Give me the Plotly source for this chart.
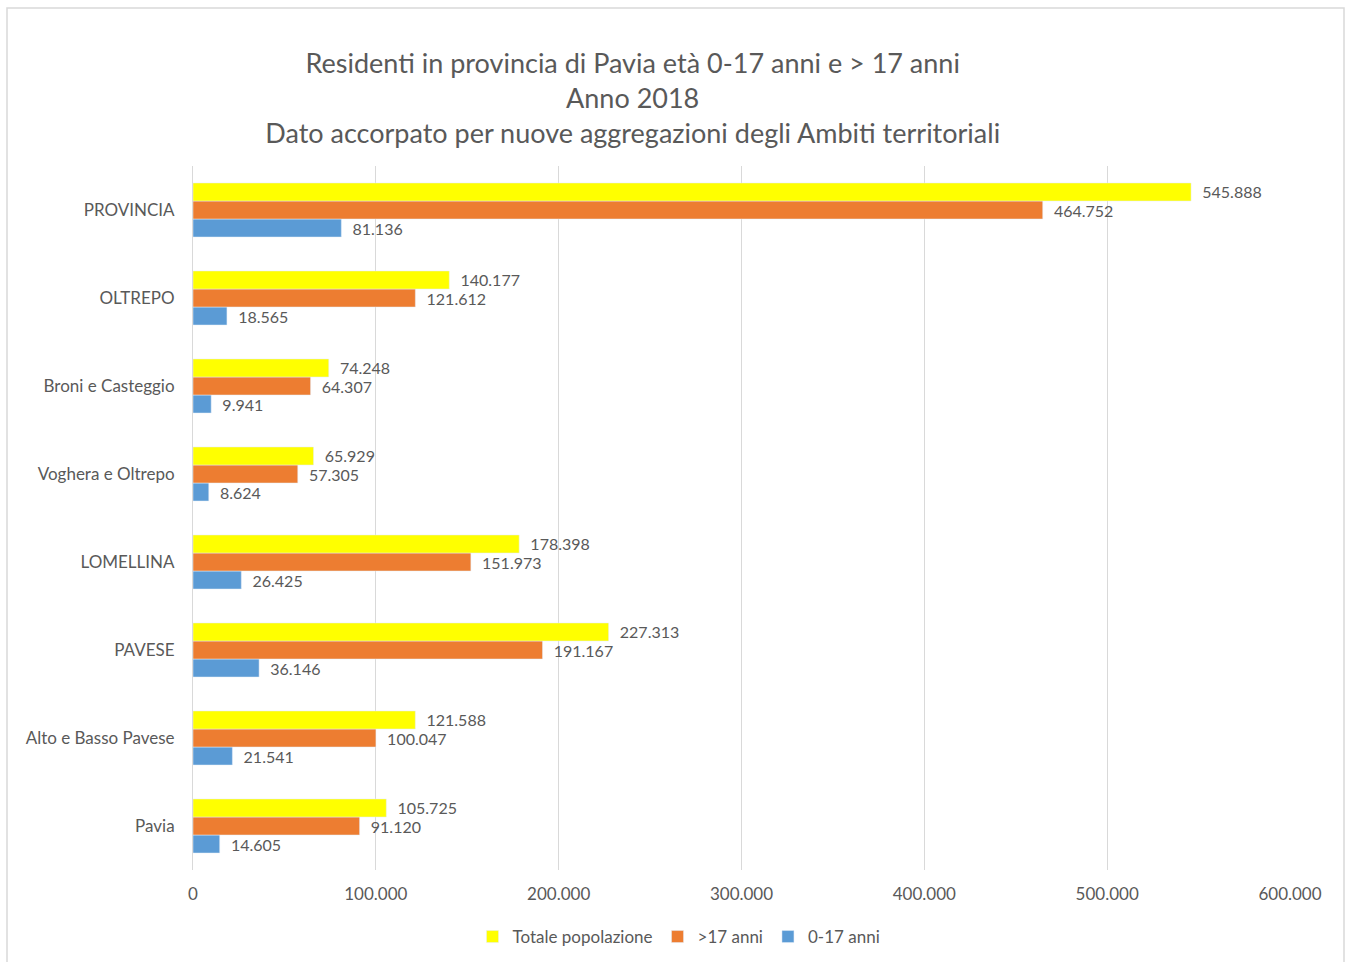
import plotly.graph_objects as go

categories = ["PROVINCIA", "OLTREPO", "Broni e Casteggio", "Voghera e Oltrepo",
              "LOMELLINA", "PAVESE", "Alto e Basso Pavese", "Pavia"]
totale = [545888, 140177, 74248, 65929, 178398, 227313, 121588, 105725]
over17 = [464752, 121612, 64307, 57305, 151973, 191167, 100047, 91120]
under17 = [81136, 18565, 9941, 8624, 26425, 36146, 21541, 14605]
x_ticks = [0, 100000, 200000, 300000, 400000, 500000, 600000]

# bottom-to-top order for plotly
cats = categories[::-1]

def rev(a):
    return a[::-1]

FONT = "Lato, 'Open Sans', sans-serif"
lbl_font = dict(family=FONT, size=16, color="#595959")

fig = go.Figure()
for vals, name, col in [(under17, "0-17 anni", "#5B9BD5"),
                        (over17, ">17 anni", "#ED7D31"),
                        (totale, "Totale popolazione", "#FFFF00")]:
    fig.add_trace(go.Bar(y=cats, x=rev(vals), orientation="h", name=name,
                         marker_color=col, texttemplate="  %{x:,}", textposition="outside",
                         textfont=lbl_font, cliponaxis=False, constraintext="none"))

fig.update_layout(
    width=1349, height=962,
    margin=dict(l=193, r=59, t=166, b=92, autoexpand=False),
    paper_bgcolor="white", plot_bgcolor="white",
    separators=",.",
    barmode="group", bargap=0.386, bargroupgap=0,
    font=dict(family=FONT, color="#595959", size=16),
    title=dict(
        text="Residenti in provincia di Pavia età 0-17 anni e > 17 anni<br>Anno 2018<br>Dato accorpato per nuove aggregazioni degli Ambiti territoriali",
        x=0.469, xanchor="center", y=0.924, yanchor="top",
        font=dict(family=FONT, size=27, color="#595959"),
    ),
    legend=dict(orientation="h", x=(679 - 193) / 1097, xanchor="center",
                y=(870 - 937) / 704, yanchor="middle",
                traceorder="reversed", font=dict(family=FONT, size=17, color="#595959"),
                itemwidth=30),
    showlegend=True,
)
fig.update_xaxes(range=[0, 600000], tickvals=x_ticks, tickformat=",", automargin=False,
                 showgrid=True, gridcolor="#D9D9D9", gridwidth=1,
                 zeroline=False, showline=False, ticks="", ticklabelstandoff=12,
                 tickfont=dict(family=FONT, size=17, color="#595959"))
fig.update_yaxes(showgrid=False, showline=True, linecolor="#D9D9D9", linewidth=1,
                 ticks="", ticklabelstandoff=14, automargin=False,
                 tickfont=dict(family=FONT, size=17, color="#595959"))

fig.add_shape(type="rect", xref="paper", yref="paper",
              x0=(7 - 193) / 1097, x1=(1344 - 193) / 1097,
              y0=(870 - 975) / 704, y1=(870 - 8) / 704,
              line=dict(color="#D9D9D9", width=1.5), layer="below")

fig.write_html("out.html")
